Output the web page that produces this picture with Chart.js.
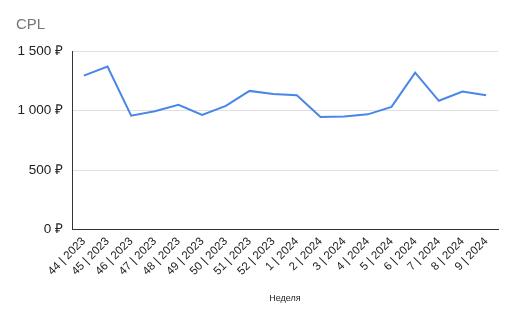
<!DOCTYPE html>
<html><head><meta charset="utf-8">
<script src="https://cdn.jsdelivr.net/npm/chart.js@4"></script>
<style>html,body{margin:0;padding:0;background:#fff}#wrap{width:512px;height:317px}</style>
</head><body><div id="wrap"><canvas id="c" width="512" height="317"></canvas></div>
<script>
const weeks = ['44 | 2023','45 | 2023','46 | 2023','47 | 2023','48 | 2023','49 | 2023','50 | 2023','51 | 2023','52 | 2023','1 | 2024','2 | 2024','3 | 2024','4 | 2024','5 | 2024','6 | 2024','7 | 2024','8 | 2024','9 | 2024'];
const cpl = [1293,1369,957,994,1048,963,1039,1165,1139,1128,946,951,968,1031,1318,1082,1159,1128];
const yTickValues = [0,500,1000,1500];
const yTickLabels = ['0 ₽','500 ₽','1 000 ₽','1 500 ₽'];
const chartTitle = 'CPL';
const xTitle = 'Неделя';

new Chart(document.getElementById('c'), {
  type: 'line',
  data: { labels: weeks, datasets: [{ data: cpl, borderColor: '#4a86e8', borderWidth: 2, pointRadius: 0, tension: 0, fill: false }] },
  options: {
    responsive: false, animation: false,
    layout: { padding: { left: 16, right: 14, top: 16, bottom: 9 } },
    plugins: {
      legend: { display: false },
      tooltip: { enabled: false },
      title: { display: true, text: chartTitle, align: 'start', color: '#757575', font: { family: 'Liberation Sans, Arial', size: 15, weight: 'normal' }, padding: { top: 0, bottom: 17 } }
    },
    scales: {
      x: {
        offset: true,
        afterFit: (s) => { s.paddingLeft = 0; },
        grid: { display: false, drawTicks: false },
        border: { display: true, color: '#333333', width: 1 },
        ticks: { color: '#222222', font: { family: 'Liberation Sans, Arial', size: 11.5 }, maxRotation: 45, minRotation: 45, autoSkip: false, padding: 5 },
        title: { display: true, text: xTitle, color: '#222222', font: { family: 'Liberation Sans, Arial', size: 9 }, padding: { top: 10 } }
      },
      y: {
        min: 0, max: 1500,
        afterFit: (s) => { s.width = 56; },
        afterBuildTicks: (axis) => { axis.ticks = yTickValues.map(v => ({ value: v })); },
        grid: { color: '#e0e0e0', drawTicks: false },
        border: { display: true, color: '#333333', width: 1 },
        ticks: { color: '#222222', font: { family: 'Liberation Sans, Arial', size: 13.5 }, padding: 9,
          callback: (v) => { const i = yTickValues.indexOf(v); return i >= 0 ? yTickLabels[i] : ''; } }
      }
    }
  }
});
</script></body></html>
